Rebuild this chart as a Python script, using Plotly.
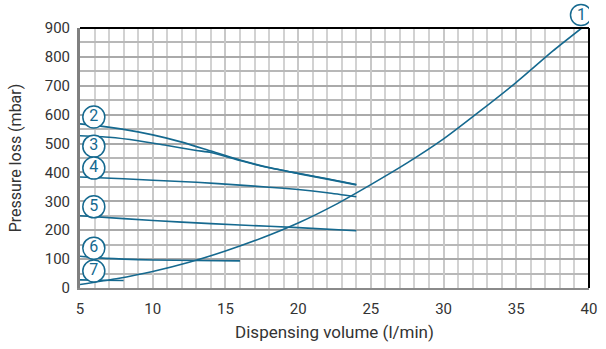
import plotly.graph_objects as go

BLUE = "#15698f"

# Curve 1 (rising)
x1 = [5, 7.5, 10, 12.5, 15, 17.5, 20, 22.5, 25, 27.5, 30, 32.5, 35, 37.5, 39.5]
y1 = [12, 32, 57, 89, 128, 173, 225, 287, 358, 433, 516, 612, 712, 820, 900]

x2 = [5, 6, 8, 10, 12, 14, 16, 18, 20, 22, 24]
y2 = [568, 563, 549, 530, 505, 474, 443, 417, 397, 378, 358]

x3 = [5, 7, 9, 11, 13, 14, 16, 18, 20, 22, 24]
y3 = [527, 522, 510, 493, 476, 469, 441, 416, 396, 377, 357]

x4 = [5, 8, 10, 13, 16, 18, 20, 22, 24]
y4 = [384, 378, 373, 366, 356, 349, 341, 330, 316]

x5 = [5, 8, 12, 16, 20, 24]
y5 = [250, 240, 228, 218, 209, 198]

x6 = [5, 6, 8, 10, 13, 16]
y6 = [110, 105, 100, 97, 95, 94]

x7 = [5, 6.5, 8]
y7 = [28, 27, 26]

label_text = ["2", "3", "4", "5", "6", "7"]
label_x = [5.95, 5.95, 5.95, 5.95, 5.95, 5.95]
label_y = [592, 491, 415, 281, 138, 59]
# label for curve 1 sits above the plot area (position as fraction of y axis height)
label1_text = "1"
label1_x = 39.45
label1_yfrac = 945 / 900

fig = go.Figure()
for xs, ys in [(x1, y1), (x2, y2), (x3, y3), (x4, y4), (x5, y5), (x6, y6), (x7, y7)]:
    fig.add_trace(go.Scatter(x=xs, y=ys, mode="lines",
                             line=dict(color=BLUE, width=1.6, shape="spline", smoothing=0.6),
                             showlegend=False, hoverinfo="skip"))

fig.add_trace(go.Scatter(
    x=label_x, y=label_y, mode="markers+text", text=label_text,
    textposition="middle center",
    textfont=dict(family="Roboto", size=16, color=BLUE),
    marker=dict(symbol="circle", size=22, color="white",
                line=dict(color=BLUE, width=1.5)),
    cliponaxis=False, showlegend=False, hoverinfo="skip"))

fig.add_annotation(x=label1_x, y=label1_yfrac, xref="x", yref="y domain",
                   text=label1_text, showarrow=False,
                   font=dict(family="Roboto", size=16, color=BLUE),
                   xanchor="center", yanchor="middle")

fig.update_layout(
    width=606, height=349,
    margin=dict(l=80, r=9, t=28, b=61),
    paper_bgcolor="white", plot_bgcolor="white",
    font=dict(family="Roboto", size=15, color="#333333"),
    shapes=[
        dict(type="line", xref="x domain", yref="y domain", x0=0, x1=1, y0=1, y1=1,
             line=dict(color="black", width=2)),
        dict(type="line", xref="x domain", yref="y domain", x0=1, x1=1, y0=0, y1=1,
             line=dict(color="black", width=2)),
        dict(type="circle", xref="x", yref="y domain", xsizemode="pixel", ysizemode="pixel",
             xanchor=label1_x, yanchor=label1_yfrac, x0=-10.5, x1=10.5, y0=-10.5, y1=10.5,
             line=dict(color=BLUE, width=1.5), fillcolor="white", layer="above"),
    ],
)
fig.update_xaxes(
    range=[5, 40], dtick=5, tick0=5,
    showgrid=True, gridcolor="#c8c8c8", gridwidth=1.5,
    minor=dict(dtick=1, showgrid=True, gridcolor="#d2d2d2", gridwidth=1.5),
    showline=True, linecolor="#8a8a8a", linewidth=2,
    zeroline=False, ticks="", ticklabelstandoff=6,
    tickfont=dict(family="Roboto", size=15, color="#333333"),
    title=dict(text="Dispensing volume (l/min)", standoff=9,
               font=dict(family="Roboto", size=17, color="#333333")),
)
fig.update_yaxes(
    range=[0, 900], dtick=100,
    showgrid=True, gridcolor="#aaaaaa", gridwidth=1.5,
    minor=dict(dtick=50, showgrid=True, gridcolor="#b8b8b8", gridwidth=1.5),
    showline=True, linecolor="#808080", linewidth=3,
    zeroline=False, ticks="", ticklabelstandoff=4,
    tickfont=dict(family="Roboto", size=15, color="#333333"),
    title=dict(text="Pressure loss (mbar)", standoff=20,
               font=dict(family="Roboto", size=16, color="#333333")),
)

fig.write_html("out.html", config={"displayModeBar": False},
               post_script="document.body.style.margin='0';")
